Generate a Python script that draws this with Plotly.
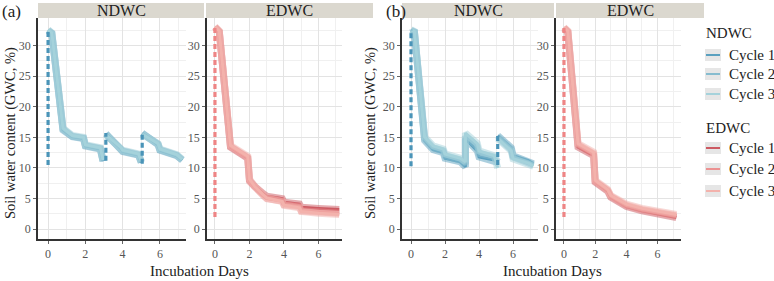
import plotly.graph_objects as go

# ---------------- data ----------------
cycles = ["Cycle 1", "Cycle 2", "Cycle 3"]

# Panel (a) NDWC
a_nd_days = [0, 0.2, 0.8, 1.3, 1.9, 2.0, 2.8, 2.95, None, 3.1, 3.9, 4.0, 4.85, 5.0, None, 5.05, 5.9, 6.0, 6.9, 7.2]
a_nd_c1 = [32.4, 32.0, 16.2, 15.1, 14.8, 13.6, 13.1, 11.1, None, 15.6, 13.2, 12.7, 12.1, 10.9, None, 15.7, 13.8, 12.9, 12.0, 11.3]
a_nd_c2 = [32.5, 32.0, 16.4, 15.2, 14.9, 13.7, 13.2, 11.2, None, 15.5, 13.3, 12.8, 12.2, 11.0, None, 15.6, 13.9, 13.0, 12.1, 11.3]
a_nd_c3 = [32.6, 32.1, 16.5, 15.3, 15.0, 13.8, 13.3, 11.3, None, 15.4, 13.4, 12.9, 12.3, 11.1, None, 15.5, 14.0, 13.1, 12.2, 11.4]
a_nd_rewet_day = [0, 3.1, 5.05]
a_nd_rewet_low = [10.5, 11.2, 10.7]
a_nd_rewet_high = [32.5, 15.7, 15.8]

# Panel (a) EDWC
a_ed_days = [0, 0.25, 0.9, 1.5, 1.9, 2.0, 2.3, 2.8, 3.0, 3.9, 4.0, 4.9, 5.0, 6.0, 7.2]
a_ed_c1 = [33.0, 32.3, 13.4, 12.3, 11.6, 8.0, 7.0, 5.8, 5.4, 5.0, 4.4, 4.1, 3.6, 3.4, 3.2]
a_ed_c2 = [33.0, 32.3, 13.5, 12.4, 11.7, 7.8, 6.8, 5.5, 5.0, 4.6, 4.0, 3.7, 3.0, 2.8, 2.6]
a_ed_c3 = [33.1, 32.4, 13.7, 12.6, 11.9, 8.2, 7.0, 5.6, 5.1, 4.5, 3.9, 3.5, 2.9, 2.6, 2.4]
a_ed_rewet_day = [0]
a_ed_rewet_low = [2.0]
a_ed_rewet_high = [33.0]

# Panel (b) NDWC
b_nd_days = [0, 0.2, 0.8, 1.3, 1.9, 2.0, 2.9, 3.2, 3.2, 3.9, 4.0, 4.9, 5.1, None, 5.1, 5.9, 6.0, 6.9, 7.2]
b_nd_c1 = [32.4, 32.2, 14.5, 13.0, 12.5, 11.6, 11.0, 10.2, 14.8, 12.8, 11.8, 11.3, 10.9, None, 15.3, 13.3, 12.0, 11.2, 10.7]
b_nd_c2 = [32.5, 32.2, 14.8, 13.3, 12.8, 12.0, 11.3, 10.6, 15.2, 13.5, 12.4, 11.8, 11.0, None, 15.0, 13.0, 11.8, 11.0, 10.5]
b_nd_c3 = [32.6, 32.3, 15.1, 13.6, 13.1, 12.3, 11.6, 11.0, 15.7, 14.0, 12.8, 12.0, 10.0, None, 14.8, 12.8, 11.5, 10.8, 10.3]
b_nd_rewet_day = [0, 5.1]
b_nd_rewet_low = [10.3, 10.5]
b_nd_rewet_high = [32.6, 15.3]

# Panel (b) EDWC
b_ed_days = [0, 0.25, 0.9, 1.5, 1.9, 2.0, 2.8, 3.0, 3.5, 4.0, 5.0, 6.0, 7.2]
b_ed_c1 = [32.8, 32.2, 13.4, 12.5, 12.0, 7.7, 6.2, 5.2, 4.5, 3.7, 3.0, 2.5, 1.9]
b_ed_c2 = [32.9, 32.3, 13.8, 12.9, 12.3, 7.8, 6.4, 5.4, 4.6, 3.9, 3.2, 2.8, 2.2]
b_ed_c3 = [33.0, 32.4, 14.0, 13.1, 12.6, 8.0, 6.5, 5.5, 4.8, 4.1, 3.4, 3.0, 2.4]
b_ed_rewet_day = [0]
b_ed_rewet_low = [2.0]
b_ed_rewet_high = [33.0]

x_ticks = [0, 2, 4, 6]
y_ticks = [0, 5, 10, 15, 20, 25, 30]

# ---------------- style ----------------
nd_colors = ["#5aa0bf", "#86bccf", "#a5d2db"]
ed_colors = ["#cc5a62", "#ec9292", "#f3b2ac"]
nd_dash_color = "#4a94b8"
ed_dash_color = "#ee8585"
SERIF = "Liberation Serif"

W, H = 774, 281
def px(x):
    return x / W
def py(y):
    return 1 - y / H

panels = [
    ("", (38, 186), (-0.54, 7.4), a_nd_days, [a_nd_c1, a_nd_c2, a_nd_c3], nd_colors,
     (a_nd_rewet_day, a_nd_rewet_low, a_nd_rewet_high), nd_dash_color),
    ("2", (207, 342), (-0.46, 7.36), a_ed_days, [a_ed_c1, a_ed_c2, a_ed_c3], ed_colors,
     (a_ed_rewet_day, a_ed_rewet_low, a_ed_rewet_high), ed_dash_color),
    ("3", (402, 538), (-0.53, 7.47), b_nd_days, [b_nd_c1, b_nd_c2, b_nd_c3], nd_colors,
     (b_nd_rewet_day, b_nd_rewet_low, b_nd_rewet_high), nd_dash_color),
    ("4", (556, 681), (-0.51, 7.5), b_ed_days, [b_ed_c1, b_ed_c2, b_ed_c3], ed_colors,
     (b_ed_rewet_day, b_ed_rewet_low, b_ed_rewet_high), ed_dash_color),
]

fig = go.Figure()
layout = dict(
    width=W, height=H, margin=dict(l=0, r=0, t=0, b=0),
    paper_bgcolor="white", plot_bgcolor="white", showlegend=False,
    font=dict(family=SERIF, color="#222"),
)

y_dom = [py(239), py(18)]
for suf, (x0, x1), xr, days, cyc, cols, rewet, dcol in panels:
    xa = "x" + suf
    ya = "y" + suf
    for i in [0, 1, 2]:
        fig.add_trace(go.Scatter(x=days, y=cyc[i], xaxis=xa, yaxis=ya, mode="lines",
                                 line=dict(color=cols[i], width=7), opacity=0.5,
                                 hoverinfo="skip", connectgaps=False))
        fig.add_trace(go.Scatter(x=days, y=cyc[i], xaxis=xa, yaxis=ya, mode="lines",
                                 line=dict(color=cols[i], width=3), name=cycles[i],
                                 connectgaps=False))
    rx, ry = [], []
    for d, lo, hi in zip(*rewet):
        rx += [d, d, None]
        ry += [lo, hi, None]
    fig.add_trace(go.Scatter(x=rx, y=ry, xaxis=xa, yaxis=ya, mode="lines",
                             line=dict(color=dcol, width=3.2, dash="5px,3px"),
                             hoverinfo="skip"))
    common = dict(showline=True, linecolor="#333", linewidth=1.6,
                  gridcolor="#e3e3e3", gridwidth=1, zeroline=False,
                  ticks="outside", ticklen=3, tickcolor="#666", tickwidth=1,
                  tickfont=dict(family=SERIF, size=12, color="#555"))
    layout["xaxis" + suf] = dict(domain=[px(x0), px(x1)], range=list(xr), anchor=ya,
                                 tickvals=x_ticks, minor=dict(dtick=1, tick0=0, showgrid=True,
                                                              gridcolor="#f0f0f0"),
                                 **common)
    layout["yaxis" + suf] = dict(domain=y_dom, range=[-1.6, 34.5], anchor=xa,
                                 tickvals=y_ticks, minor=dict(dtick=2.5, tick0=0, showgrid=True,
                                                              gridcolor="#f0f0f0"),
                                 **common)

shapes = []
annotations = []
strips = [(38, 204, "NDWC"), (206, 373, "EDWC"), (402, 554, "NDWC"), (556, 704, "EDWC")]
for s0, s1, label in strips:
    shapes.append(dict(type="rect", xref="paper", yref="paper", x0=px(s0), x1=px(s1),
                       y0=py(18), y1=py(3), fillcolor="#dbd8cf", line=dict(width=0), layer="below"))
    annotations.append(dict(xref="paper", yref="paper", x=px((s0 + s1) / 2), y=py(10.5),
                            text=label, showarrow=False, xanchor="center", yanchor="middle",
                            font=dict(family=SERIF, size=16, color="#222")))

annotations.append(dict(xref="paper", yref="paper", x=px(0), y=py(12), text="(a)", showarrow=False,
                        xanchor="left", yanchor="middle", font=dict(family=SERIF, size=17, color="#222")))
annotations.append(dict(xref="paper", yref="paper", x=px(384), y=py(12), text="(b)", showarrow=False,
                        xanchor="left", yanchor="middle", font=dict(family=SERIF, size=17, color="#222")))

for xc in (11, 371):
    annotations.append(dict(xref="paper", yref="paper", x=px(xc), y=py(133),
                            text="Soil water content (GWC, %)", showarrow=False, textangle=-90,
                            xanchor="center", yanchor="middle",
                            font=dict(family=SERIF, size=14.5, color="#222")))
for xc in (199, 552):
    annotations.append(dict(xref="paper", yref="paper", x=px(xc), y=py(271),
                            text="Incubation Days", showarrow=False,
                            xanchor="center", yanchor="middle",
                            font=dict(family=SERIF, size=15, color="#222")))

legend_groups = [("NDWC", 33, [55, 74, 94], nd_colors), ("EDWC", 128, [148, 169, 191], ed_colors)]
for title, ty, ys, cols in legend_groups:
    annotations.append(dict(xref="paper", yref="paper", x=px(704), y=py(ty), text=title,
                            showarrow=False, xanchor="left", yanchor="middle",
                            font=dict(family=SERIF, size=15, color="#222")))
    for yy, c, name in zip(ys, cols, cycles):
        shapes.append(dict(type="rect", xref="paper", yref="paper", x0=px(705), x1=px(721),
                           y0=py(yy + 6), y1=py(yy - 6), fillcolor="#e6e6e6", line=dict(width=0)))
        shapes.append(dict(type="line", xref="paper", yref="paper", x0=px(706), x1=px(720),
                           y0=py(yy), y1=py(yy), line=dict(color=c, width=2)))
        annotations.append(dict(xref="paper", yref="paper", x=px(727), y=py(yy), text=name,
                                showarrow=False, xanchor="left", yanchor="middle",
                                font=dict(family=SERIF, size=15, color="#222")))

layout["shapes"] = shapes
layout["annotations"] = annotations
fig.update_layout(**layout)
fig.write_html("out.html")
